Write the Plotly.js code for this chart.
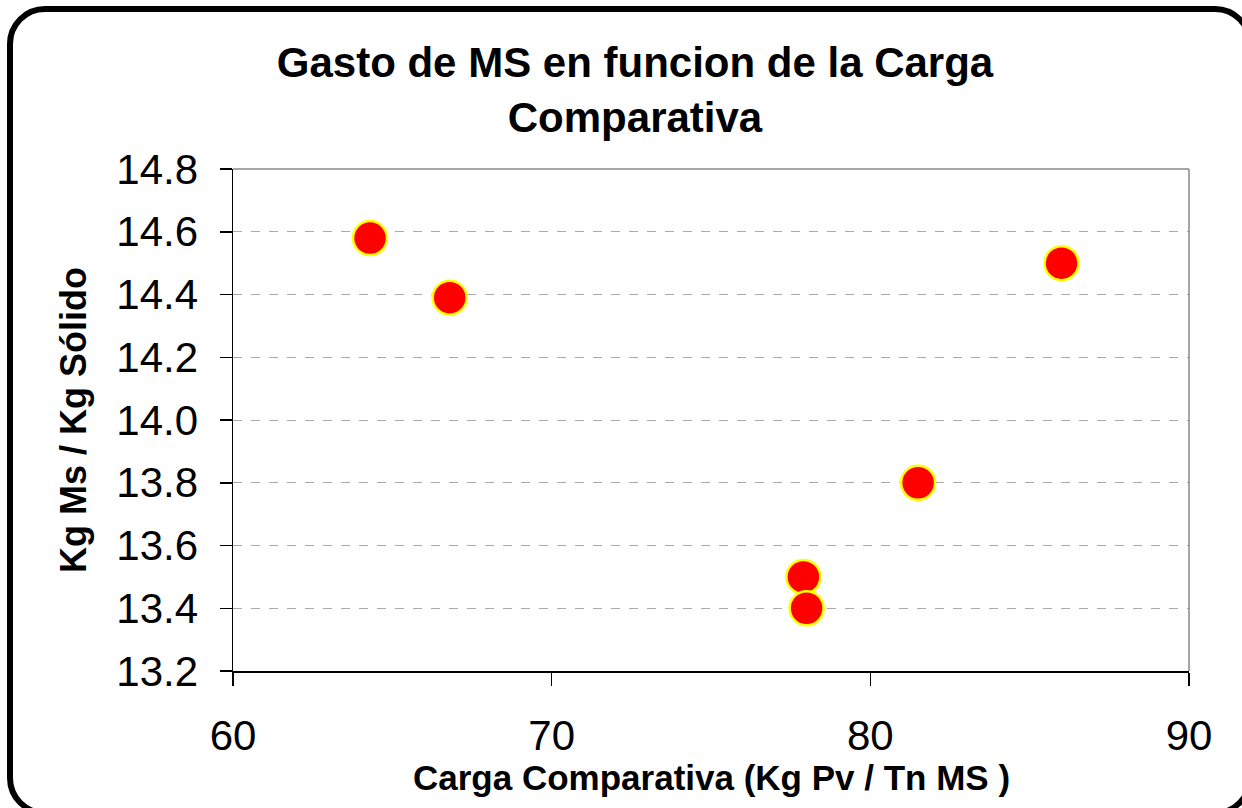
<!DOCTYPE html>
<html>
<head>
<meta charset="utf-8">
<script src="https://cdn.plot.ly/plotly-3.0.1.min.js"></script>
<style>
  html, body { margin: 0; padding: 0; background: #ffffff; overflow: hidden; }
  #frame { position: absolute; left: 7px; top: 6px; width: 1246px; height: 810px;
           box-sizing: border-box; border: 6px solid #000; border-radius: 38px; background: #fff; }
  #chart { position: absolute; left: 0; top: 0; width: 1242px; height: 808px; }
</style>
</head>
<body>
<div id="frame"></div>
<div id="chart"></div>
<script>
const cargaComparativa = [64.3, 66.8, 86.0, 81.5, 77.9, 78.0];
const gastoMS = [14.58, 14.39, 14.50, 13.80, 13.50, 13.40];
const xTickVals = [60, 70, 80, 90];
const yTickVals = [13.2, 13.4, 13.6, 13.8, 14.0, 14.2, 14.4, 14.6, 14.8];
const yTickText = ['13.2', '13.4', '13.6', '13.8', '14.0', '14.2', '14.4', '14.6', '14.8'];
const xTitle = 'Carga Comparativa (Kg Pv / Tn MS )';
const yTitle = 'Kg Ms / Kg Sólido';
const chartTitle = 'Gasto de MS en funcion de la Carga<br>Comparativa';

const FONT = 'Liberation Sans, Arial, sans-serif';

const trace = {
  type: 'scatter',
  mode: 'markers',
  x: cargaComparativa,
  y: gastoMS,
  marker: { color: '#ff0000', size: 34, line: { color: '#ffff00', width: 2.5 } },
  hoverinfo: 'x+y'
};

const layout = {
  width: 1242,
  height: 808,
  paper_bgcolor: 'rgba(0,0,0,0)',
  plot_bgcolor: '#ffffff',
  margin: { l: 233, r: 53, t: 169, b: 137 },
  showlegend: false,
  title: {
    text: chartTitle,
    font: { family: FONT, size: 42, color: '#000', weight: 'bold' },
    x: 635 / 1242, xanchor: 'center', xref: 'container',
    y: 1 - 77 / 808, yanchor: 'top', yref: 'container'
  },
  xaxis: {
    range: [60, 90],
    tickvals: xTickVals,
    ticktext: xTickVals.map(String),
    ticks: 'outside', ticklen: 13, tickwidth: 1.5, tickcolor: '#000',
    showline: true, linecolor: '#000', linewidth: 1.5,
    showgrid: false, zeroline: false,
    tickfont: { family: FONT, size: 42, color: '#000' },
    ticklabelstandoff: 14
  },
  yaxis: {
    range: [13.2, 14.8],
    tickvals: yTickVals,
    ticktext: yTickText,
    ticks: 'outside', ticklen: 12, tickwidth: 1.5, tickcolor: '#000',
    showline: true, linecolor: '#000', linewidth: 1.5,
    showgrid: true, gridcolor: '#aaaaaa', gridwidth: 1, griddash: 'dash',
    zeroline: false,
    tickfont: { family: FONT, size: 42, color: '#000' },
    ticklabelstandoff: 13,
    title: { text: yTitle, font: { family: FONT, size: 36, color: '#000', weight: 'bold' }, standoff: 18 }
  },
  annotations: [
    { text: xTitle, showarrow: false, xref: 'paper', yref: 'paper', x: 0.5, y: 0,
      xanchor: 'center', yanchor: 'middle', yshift: -106,
      font: { family: FONT, size: 35, color: '#000', weight: 'bold' } }
  ],
  shapes: [
    { type: 'line', xref: 'paper', yref: 'paper', x0: 0, x1: 1, y0: 1, y1: 1, line: { color: '#888888', width: 1.5 } },
    { type: 'line', xref: 'paper', yref: 'paper', x0: 1, x1: 1, y0: 0, y1: 1, line: { color: '#888888', width: 1.5 } }
  ]
};

Plotly.newPlot('chart', [trace], layout, { displayModeBar: false, staticPlot: true });
</script>
</body>
</html>
